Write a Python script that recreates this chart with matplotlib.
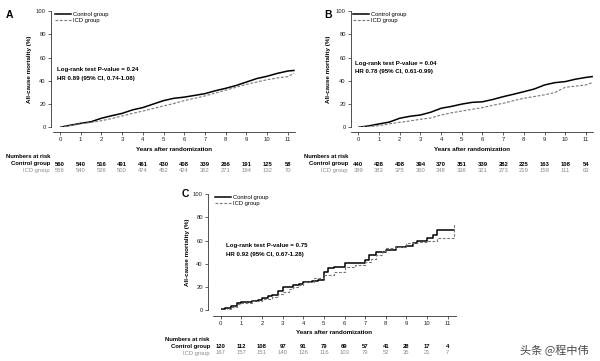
import matplotlib
matplotlib.use("Agg")
import matplotlib.pyplot as plt
from matplotlib.transforms import blended_transform_factory

plt.rcParams['font.family'] = ['Liberation Sans', 'DejaVu Sans']

W, H = 600, 361

# ---- data ----
years_ab = [0, 0.5, 1, 1.5, 2, 2.5, 3, 3.5, 4, 4.5, 5, 5.5, 6, 6.5, 7, 7.5, 8, 8.5, 9, 9.5, 10, 10.5, 11, 11.3]
a_control = [0, 1.8, 3.4, 4.8, 7.8, 10, 12, 15, 17, 20, 23, 25, 26, 27.5, 29, 31.5, 33.6, 36, 39, 42, 44, 46.5, 48.5, 49]
a_icd = [0, 1.5, 3, 4.2, 5.7, 7.5, 9.8, 12, 14, 16.2, 18.4, 20.5, 23, 25, 27, 29.5, 32, 34.5, 37, 39, 41, 42.5, 43.7, 46.5]
b_control = [0, 1.2, 2.9, 4.5, 7.8, 9.5, 10.6, 13, 16.4, 18, 20, 21.5, 22, 24, 26.4, 28.5, 30.7, 33, 36.5, 38.5, 39.4, 41.5, 43, 43.7]
b_icd = [0, 0.7, 1.4, 3, 4.3, 5.5, 6.9, 8, 10.6, 12.5, 14, 15.5, 17, 19, 20.7, 23, 25, 26.5, 28, 30, 34.5, 35.5, 36.5, 38.5]

c_control_t = [0, 0.2, 0.5, 0.8, 1.0, 1.5, 1.8, 2.0, 2.3, 2.5, 2.8, 3.0, 3.3, 3.5, 3.8, 4.0, 4.4, 4.7, 5.0, 5.2, 5.5,
               6.0, 6.5, 7.0, 7.2, 7.5, 8.0, 8.5, 9.0, 9.3, 9.5, 10.0, 10.3, 10.5, 11.3]
c_control = [1, 2, 3.7, 6, 7.4, 8, 9, 10.3, 12, 13, 17, 20, 20, 21.8, 23, 24.6, 25, 26, 33, 36, 37.5,
             40.4, 41, 43.3, 47.6, 50.4, 51.9, 54.7, 55.3, 58, 60, 62, 64.8, 69, 69]
c_icd_t = [0, 0.3, 0.5, 0.8, 1.0, 1.5, 2.0, 2.5, 2.8, 3.0, 3.3, 3.5, 3.8, 4.0, 4.5, 5.0, 5.5, 6.0, 6.5, 7.0,
           7.3, 7.5, 7.8, 8.0, 8.5, 9.0, 9.5, 10.0, 10.5, 11.2, 11.3]
c_icd = [0, 1.5, 3, 5, 6.6, 8.3, 9.5, 11.7, 14, 16, 18, 20, 22, 24.6, 27.5, 30.4, 33.2, 37, 39, 41.8,
         44, 47.6, 51, 53.3, 54, 58, 59, 60, 62, 62, 74]

risk_years = list(range(12))
a_risk_control = [560, 540, 516, 491, 461, 430, 408, 339, 266, 191, 125, 58]
a_risk_icd = [556, 540, 526, 500, 474, 452, 424, 352, 271, 194, 132, 70]
b_risk_control = [440, 428, 408, 394, 370, 351, 339, 282, 225, 163, 108, 54]
b_risk_icd = [389, 383, 375, 360, 348, 336, 321, 273, 219, 159, 111, 63]
c_risk_control = [120, 112, 108, 97, 91, 79, 69, 57, 41, 28, 17, 4]
c_risk_icd = [167, 157, 151, 140, 126, 116, 103, 79, 52, 35, 21, 7]

stats_a = ['Log-rank test P-value = 0.24', 'HR 0.89 (95% CI, 0.74-1.08)']
stats_b = ['Log-rank test P-value = 0.04', 'HR 0.78 (95% CI, 0.61-0.99)']
stats_c = ['Log-rank test P-value = 0.75', 'HR 0.92 (95% CI, 0.67-1.28)']

GREY = '#8a8a8a'
FS = 4.2

fig = plt.figure(figsize=(6, 3.61), dpi=100)


def fx(px):
    return px / W


def fy(py):
    return 1 - py / H


def panel(letter, box, xmax, spine_off, t_ctrl, y_ctrl, t_icd, y_icd, steps, stats, stats_xy,
          risk_ctrl, risk_icd, rows_y, label_right, nar_left, ylab_x, letter_xy, leg_xy):
    left, top, right, bottom = box
    ax = fig.add_axes([fx(left), fy(bottom), fx(right - left), (bottom - top) / H])
    ds = 'steps-post' if steps else 'default'
    l1, = ax.plot(t_ctrl, y_ctrl, color='black', lw=1.1, drawstyle=ds)
    l2, = ax.plot(t_icd, y_icd, color='#777777', lw=0.8, ls=(0, (2.5, 1.5)), drawstyle=ds)
    ax.set_xlim(0, xmax)
    ax.set_ylim(0, 100)
    ax.set_xticks(range(12))
    ax.set_yticks([0, 20, 40, 60, 80, 100])
    for s in ['top', 'right']:
        ax.spines[s].set_visible(False)
    ax.spines['left'].set_position(('outward', spine_off[0] / 1.389))
    ax.spines['bottom'].set_position(('outward', spine_off[1] / 1.389))
    ax.spines['bottom'].set_bounds(-0.35, xmax)
    for s in ['left', 'bottom']:
        ax.spines[s].set_linewidth(0.6)
        ax.spines[s].set_color('#333333')
    ax.tick_params(labelsize=FS, length=2, width=0.5, pad=1.5, colors='#222222')
    ax.patch.set_alpha(0)

    ax.set_ylabel('All-cause mortality (%)', fontsize=4.5, fontweight='bold')
    ax.yaxis.set_label_coords(fx(ylab_x), fy((top + bottom) / 2), transform=fig.transFigure)

    ax.text(fx(stats_xy[0]), fy(stats_xy[1]), stats[0], transform=fig.transFigure,
            fontsize=4.4, fontweight='bold', va='center')
    ax.text(fx(stats_xy[0]), fy(stats_xy[1] + 8.7), stats[1], transform=fig.transFigure,
            fontsize=4.4, fontweight='bold', va='center')

    ax.legend([l1, l2], ['Control group', 'ICD group'], loc='upper left',
              bbox_to_anchor=(fx(leg_xy[0]), fy(leg_xy[1])), bbox_transform=fig.transFigure,
              frameon=False, fontsize=FS, handlelength=2.7, handletextpad=0.45,
              labelspacing=0.25, borderpad=0, borderaxespad=0)

    fig.text(fx(letter_xy[0]), fy(letter_xy[1]), letter, fontsize=7.5, fontweight='bold',
             va='center', ha='left')

    xlab_y, nar_y, ctrl_y, icd_y = rows_y
    fig.text(fx((left + right) / 2 - 4), fy(xlab_y), 'Years after randomization', fontsize=4.5,
             fontweight='bold', ha='center', va='center')
    fig.text(fx(nar_left), fy(nar_y), 'Numbers at risk', fontsize=FS, fontweight='bold', va='center')
    fig.text(fx(label_right), fy(ctrl_y), 'Control group', fontsize=FS, fontweight='bold',
             ha='right', va='center')
    fig.text(fx(label_right), fy(icd_y), 'ICD group', fontsize=FS, color=GREY,
             ha='right', va='center')
    tr = blended_transform_factory(ax.transData, fig.transFigure)
    for yr, nc, ni in zip(risk_years, risk_ctrl, risk_icd):
        ax.text(yr, fy(ctrl_y), str(nc), transform=tr, fontsize=FS, fontweight='bold',
                ha='center', va='center', clip_on=False)
        ax.text(yr, fy(icd_y), str(ni), transform=tr, fontsize=FS, color=GREY,
                ha='center', va='center', clip_on=False)
    return ax


panel('A', (60, 11.3, 295, 127.3), 11.35, (9.3, 4.7), years_ab, a_control, years_ab, a_icd, False,
      stats_a, (56.7, 69.5), a_risk_control, a_risk_icd, (149, 156, 164, 171), 50, 6, 31.7,
      (6, 15), (55, 11.5))
panel('B', (358.3, 11.3, 593, 127.3), 11.34, (7.6, 4.7), years_ab, b_control, years_ab, b_icd, False,
      stats_b, (355, 63.3), b_risk_control, b_risk_icd, (149, 156, 164, 171), 348, 304, 331,
      (324, 15), (353, 11.5))
panel('C', (220.7, 194, 456, 310.3), 11.4, (13, 5.4), c_control_t, c_control, c_icd_t, c_icd, True,
      stats_c, (226, 246), c_risk_control, c_risk_icd, (332, 339.3, 346.7, 353), 210, 165, 190,
      (182, 194), (215, 194.8))

# watermark
fig.text(fx(520), fy(350), '头条 @程中伟', fontsize=8, color='#444444', va='center',
         family=['Noto Sans CJK SC', 'DejaVu Sans'])

fig.savefig('out.png', dpi=100)
